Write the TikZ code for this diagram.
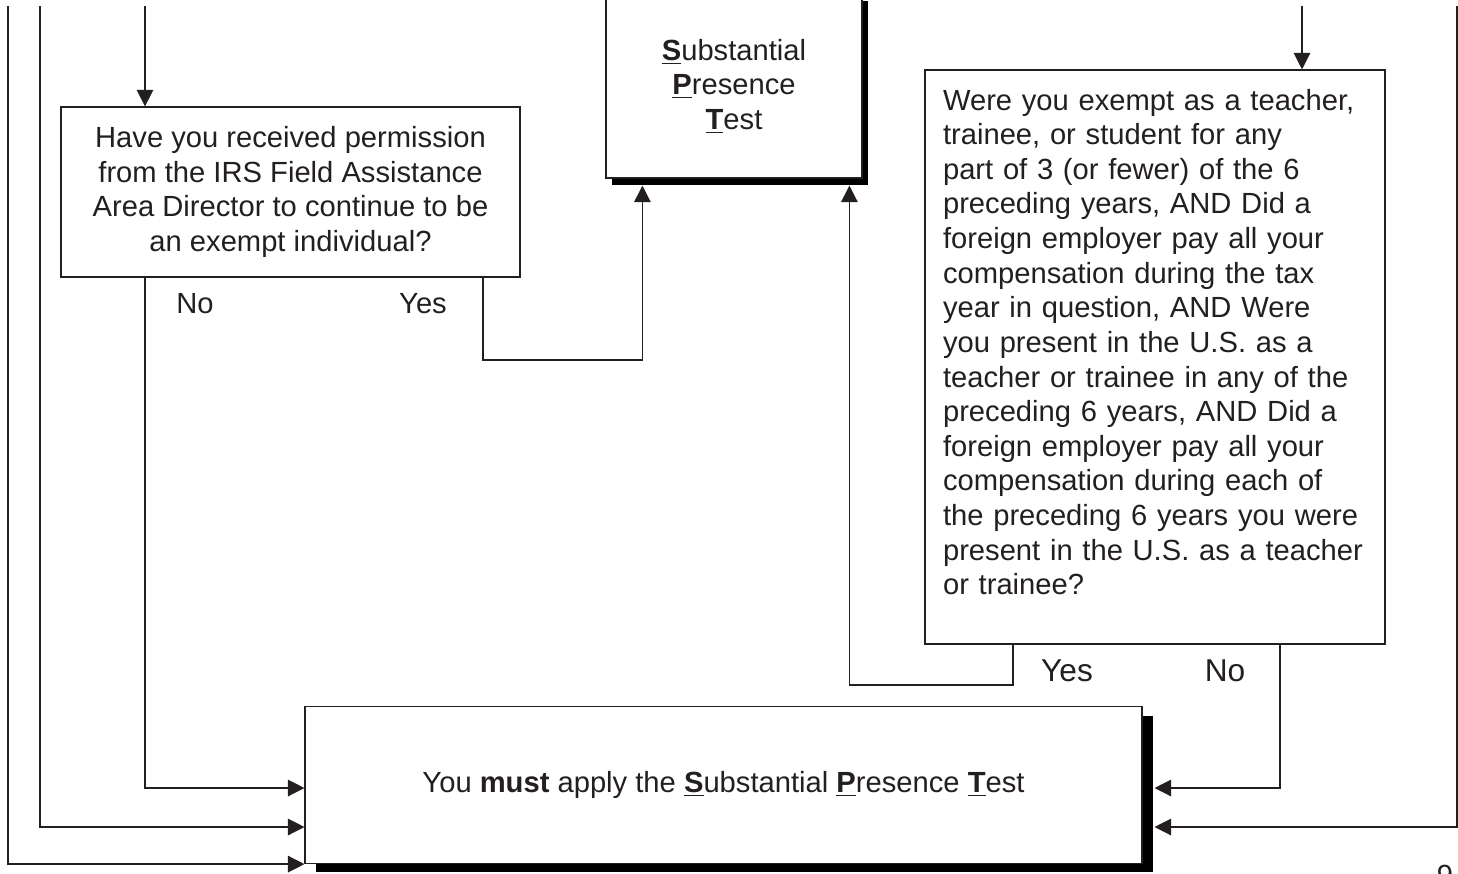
\documentclass[tikz,border=0pt]{standalone}
\usepackage{fontspec}
\setmainfont{Liberation Sans}
\usetikzlibrary{arrows.meta,calc,shadows}
\definecolor{ink}{RGB}{35,31,32}
\newcommand\keyletter[1]{\underline{\textbf{#1}}}

\begin{document}
\begin{tikzpicture}[x=0.02cm,y=-0.02cm,line width=0.7pt,color=ink,
    font=\fontsize{16.6}{19.7}\selectfont]
    \tikzstyle{box}=[draw=ink,fill=white,inner sep=0pt,align=center]
    \tikzstyle{arr}=[-{Triangle[length=0.33cm,width=0.33cm]}]
    \tikzstyle{heavy}=[drop shadow={shadow xshift=0.12cm,shadow yshift=-0.14cm,fill=black,opacity=1}]
    \useasboundingbox (0,0) rectangle (1458,873);

    % question boxes
    \node[box,minimum width=9.18cm,minimum height=3.4cm] (perm) at (290.5,192)
        {Have you received permission\\from the IRS Field Assistance\\Area Director to continue to be\\an exempt individual?};
    \node[box,heavy,minimum width=5.12cm,minimum height=3.68cm] (spt) at (734,86)
        {\keyletter{S}ubstantial\\\keyletter{P}resence\\\keyletter{T}est};
    \node[box,align=left,text width=8.48cm,inner xsep=0.36cm,minimum height=11.48cm] (cond) at (1155,357)
        {Were you exempt as a teacher,\\trainee, or student for any\\part of 3 (or fewer) of the 6\\preceding years, AND Did a\\foreign employer pay all your\\compensation during the tax\\year in question, AND Were\\you present in the U.S. as a\\teacher or trainee in any of the\\preceding 6 years, AND Did a\\foreign employer pay all your\\compensation during each of\\the preceding 6 years you were\\present in the U.S. as a teacher\\or trainee?\par\vspace{0.6cm}};
    \node[box,drop shadow={shadow xshift=0.22cm,shadow yshift=-0.18cm,fill=black,opacity=1},
        minimum width=16.74cm,minimum height=3.14cm] (must) at (723.5,785)
        {You \textbf{must} apply the \keyletter{S}ubstantial \keyletter{P}resence \keyletter{T}est};

    % entry lines from the previous page
    \foreach \name/\x in {in1/8, in2/40, in3/145, in4/1302, in5/1457}
        \coordinate (\name) at (\x,6);
    \coordinate (lowrow) at (0,827);
    \coordinate (midrow) at (0,788);
    \coordinate (pyes) at (483,360);
    \coordinate (cyes) at (1013,685);
    \coordinate (cno) at (1280,0);
    \coordinate (sptA) at ($(spt.south west)+(37,7)$);
    \coordinate (sptB) at ($(spt.south west)+(244,7)$);
    \coordinate (mustR) at ($(must.east)+(12,0)$);

    \draw[arr] (in3) -- (in3 |- perm.north);
    \draw[arr] (in4) -- (in4 |- cond.north);
    \draw[arr] (in1) |- (must.south west);
    \draw[arr] (in2) |- (must.west |- lowrow);
    \draw[arr] (in5) |- (mustR |- lowrow);

    % answers
    \draw[arr] (perm.south -| in3) |- (must.west |- midrow);
    \draw[arr] (perm.south -| pyes) |- (pyes -| sptA) -- (sptA);
    \draw[arr] (cond.south -| cyes) |- (cyes -| sptB) -- (sptB);
    \draw[arr] (cond.south -| cno) |- (mustR |- midrow);

    \foreach \name/\x/\y/\txt in {pno/195/304/No, pyl/423/304/Yes}
        \node (\name) at (\x,\y) {\txt};
    \foreach \name/\x/\y/\txt in {cyl/1067/671/Yes, cnl/1225/671/No}
        \node[font=\fontsize{18}{21}\selectfont] (\name) at (\x,\y) {\txt};
    \node[anchor=base] (pgnum) at (1445,885) {9};
\end{tikzpicture}
\end{document}
